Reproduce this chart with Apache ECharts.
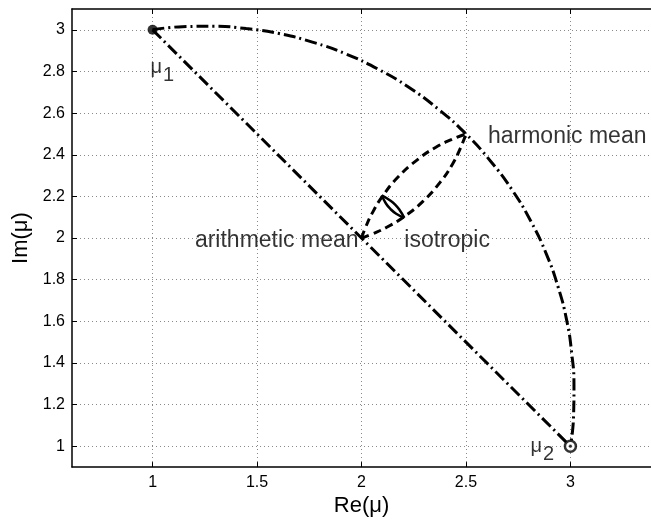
<!DOCTYPE html>
<html><head><meta charset="utf-8">
<script src="https://cdn.jsdelivr.net/npm/echarts@6/dist/echarts.min.js"></script>
<style>html,body{margin:0;padding:0;background:#fff}#c{width:651px;height:522px}</style>
</head><body><div id="c"></div>
<script>
// ---- data ----
const xTicks = [1, 1.5, 2, 2.5, 3];
const yTicks = [1, 1.2, 1.4, 1.6, 1.8, 2, 2.2, 2.4, 2.6, 2.8, 3];
const mu1 = [1, 3];
const mu2 = [3, 1];
const arithmeticMean = [2, 2];
const harmonicMean = [2.5, 2.5];
// straight (arithmetic) path mu1 -> mu2
const arithmeticPath = [mu1, arithmeticMean, mu2];
// outer (harmonic) arc mu1 -> harmonic mean -> mu2
const harmonicArc = [
  [1, 3], [1.143, 3.015], [1.293, 3.017], [1.448, 3.006], [1.606, 2.982], [1.765, 2.941],
  [1.923, 2.885], [2.078, 2.812], [2.228, 2.723], [2.369, 2.618], [2.5, 2.5],
  [2.618, 2.369], [2.723, 2.228], [2.812, 2.078], [2.885, 1.923], [2.941, 1.765],
  [2.982, 1.606], [3.006, 1.448], [3.017, 1.293], [3.015, 1.143], [3, 1]
];
// lens between arithmetic and harmonic means
const lensLower = [
  [2, 2], [2.055, 2.021], [2.121, 2.052], [2.2, 2.1], [2.294, 2.176],
  [2.378, 2.27], [2.436, 2.356], [2.474, 2.433], [2.5, 2.5]
];
const lensUpper = [
  [2, 2], [2.021, 2.055], [2.052, 2.121], [2.1, 2.2], [2.176, 2.294],
  [2.27, 2.378], [2.356, 2.436], [2.433, 2.474], [2.5, 2.5]
];
// isotropic region (thin lens)
const isotropicA = [[2.097, 2.205], [2.132, 2.184], [2.161, 2.161], [2.184, 2.132], [2.205, 2.097]];
const isotropicB = [[2.097, 2.205], [2.117, 2.166], [2.139, 2.139], [2.166, 2.117], [2.205, 2.097]];
// annotation texts and their anchor points
const annotationTexts = ['arithmetic mean', 'isotropic', 'harmonic mean', '{m|μ}{s|1}', '{m|μ}{s|2}'];
const annotationAnchors = [arithmeticMean, [2.2, 2.0], harmonicMean, mu1, mu2];

// ---- styling ----
const FONT = '"Liberation Sans", Arial, Helvetica, sans-serif';
const XMIN = 0.6143, XMAX = 3.3857, YMIN = 0.9, YMAX = 3.1;
const annotationLabelStyles = [
  {position: 'left', distance: 3, offset: [0, 3]},
  {position: [1, 3], align: 'left', verticalAlign: 'middle'},
  {position: 'right', distance: 22, offset: [0, 3]},
  {position: [-2, 28], align: 'left', verticalAlign: 'top'},
  {position: [-40, -10], align: 'left', verticalAlign: 'top'}
];
const rich = {
  m: {fontSize: 20, fontFamily: FONT, color: '#000', lineHeight: 22, verticalAlign: 'top'},
  s: {fontSize: 20, fontFamily: FONT, color: '#000', lineHeight: 22, verticalAlign: 'top', padding: [8, 0, 0, 1]}
};

const dashDot = [12, 4, 2, 4];
const dashed = [8, 5];
function lineSeries(data, type, width) {
  return {
    type: 'line', data: data, smooth: data.length > 3 ? true : false, showSymbol: false, silent: true,
    lineStyle: {color: '#000', width: width, type: type}, z: 3
  };
}
const axisLineStyle = {color: '#000', width: 1.5};

const chart = echarts.init(document.getElementById('c'), null, {renderer: 'canvas'});
chart.setOption({
  backgroundColor: '#fff',
  animation: false,
  grid: {left: 72, top: 9, width: 582, height: 462, containLabel: false},
  xAxis: [
    {
      type: 'value', min: XMIN, max: XMAX, position: 'bottom',
      name: 'Re(μ)', nameLocation: 'middle', nameGap: 27,
      nameTextStyle: {fontSize: 22, color: '#000', fontFamily: FONT},
      axisLine: {onZero: false, lineStyle: axisLineStyle},
      axisTick: {inside: true, length: 5, customValues: xTicks, lineStyle: {color: '#000', width: 1}},
      axisLabel: {customValues: xTicks, margin: 7, fontSize: 16, color: '#000', fontFamily: FONT},
      splitLine: {show: true, lineStyle: {color: '#8a8a8a', width: 1, type: [1, 3]}}
    },
    {
      type: 'value', min: XMIN, max: XMAX, position: 'top',
      axisLine: {onZero: false, lineStyle: axisLineStyle},
      axisTick: {inside: true, length: 5, customValues: xTicks, lineStyle: {color: '#000', width: 1}},
      axisLabel: {show: false},
      splitLine: {show: false}
    }
  ],
  yAxis: [
    {
      type: 'value', min: YMIN, max: YMAX, position: 'left',
      name: 'Im(μ)', nameLocation: 'middle', nameGap: 39,
      nameTextStyle: {fontSize: 22, color: '#000', fontFamily: FONT},
      axisLine: {onZero: false, lineStyle: axisLineStyle},
      axisTick: {inside: true, length: 5, customValues: yTicks, lineStyle: {color: '#000', width: 1}},
      axisLabel: {customValues: yTicks, margin: 7, fontSize: 16, color: '#000', fontFamily: FONT},
      splitLine: {show: true, lineStyle: {color: '#8a8a8a', width: 1, type: [1, 3]}}
    }
  ],
  series: [
    lineSeries(arithmeticPath, dashDot, 3),
    lineSeries(harmonicArc, dashDot, 3),
    lineSeries(lensLower, dashed, 3),
    lineSeries(lensUpper, dashed, 3),
    lineSeries(isotropicA, 'solid', 2.5),
    lineSeries(isotropicB, 'solid', 2.5),
    {
      type: 'scatter', data: [mu1], symbol: 'circle', symbolSize: 10, silent: true, z: 5,
      itemStyle: {color: '#000'}
    },
    {
      type: 'scatter', data: [mu2], symbol: 'circle', symbolSize: 11, silent: true, z: 5,
      itemStyle: {color: '#fff', borderColor: '#000', borderWidth: 2.5}
    },
    {
      type: 'scatter', data: [mu2], symbol: 'circle', symbolSize: 3, silent: true, z: 6,
      itemStyle: {color: '#000'}
    },
    {
      type: 'scatter', silent: true, symbolSize: 0, z: 7,
      data: annotationAnchors.map((p, i) => ({
        value: p,
        label: Object.assign({
          show: true, formatter: annotationTexts[i], fontSize: 23, fontFamily: FONT, color: '#000',
          textBorderWidth: 0, rich: rich
        }, annotationLabelStyles[i])
      }))
    }
  ]
});
</script>
</body></html>
